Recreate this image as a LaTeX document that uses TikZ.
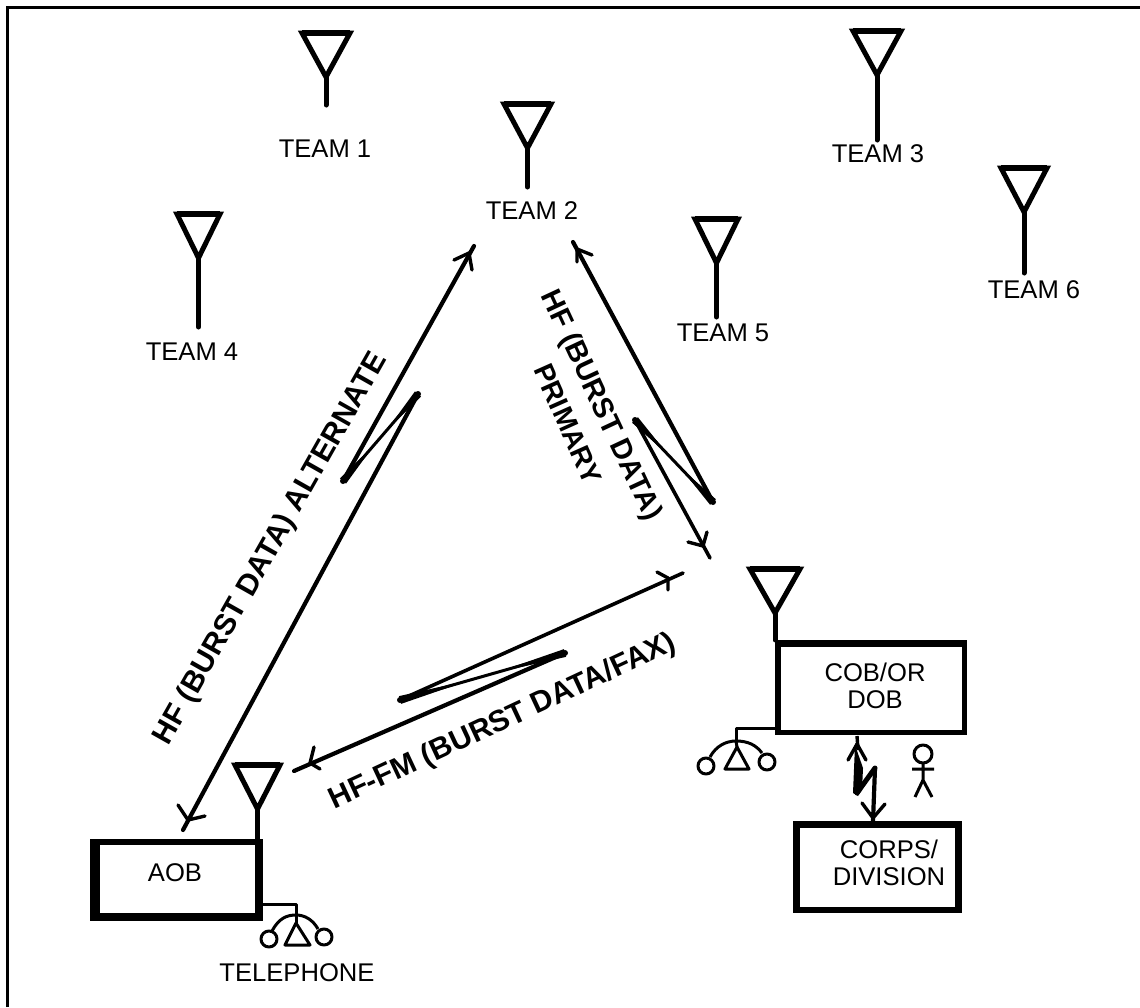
\documentclass[tikz,border=0pt]{standalone}
\usepackage{fontspec}
\setmainfont{Liberation Sans}
\usetikzlibrary{calc}
\tikzset{
  x=1pt,y=-1pt,
  lbl/.style={inner sep=0pt,font=\fontsize{25.6}{27.5}\selectfont,align=center},
  blbl/.style={inner sep=0pt,font=\fontsize{30}{32}\selectfont\bfseries,align=center},
  wire/.style={line width=4.2pt,line cap=round,line join=round},
  barb/.style={line width=3.4pt,line cap=round,line join=round},
  aerial/.style={line width=5pt,line join=miter,line cap=round},
  thin wire/.style={line width=3pt,line join=round},
  bolt/.style={fill=black},
}
\newcommand{\antenna}[5]{% name, tl x, tr x, top y, stem end y
  \coordinate (#1 l) at (#2,#4);
  \coordinate (#1 r) at (#3,#4);
  \coordinate (#1 a) at ({(#2+#3)/2},#4+44);
  \coordinate (#1 s) at ({(#2+#3)/2},#5);
  \draw[aerial] (#1 l) -- (#1 r) -- (#1 a) -- cycle;
  \draw[aerial,line width=6pt,line cap=butt] (#1 l) -- (#1 r);
  \draw[aerial] (#1 a) -- (#1 s);
}
\newcommand{\heavybox}[8]{% outer x0 y0 x1 y1, inner x0 y0 x1 y1
  \fill[black] (#1,#2) rectangle (#3,#4);
  \fill[white] (#5,#6) rectangle (#7,#8);
}
\newcommand{\zstroke}[2]{% lightning middle stroke, thick at both tips
  \draw[wire,line width=3pt] (#1) -- (#2);
  \fill[bolt] ($(#1)!4pt!90:(#2)$) -- ($(#1)!0.42!(#2)$) -- ($(#1)!4pt!-90:(#2)$) -- cycle;
  \fill[bolt] ($(#2)!4pt!90:(#1)$) -- ($(#2)!0.42!(#1)$) -- ($(#2)!4pt!-90:(#1)$) -- cycle;
  \fill[bolt] (#1) circle (3pt) (#2) circle (3pt);
}
\begin{document}
\begin{tikzpicture}
\useasboundingbox (0,0) rectangle (1140,1007);
\fill[white] (0,0) rectangle (1140,1007);
% frame
\coordinate (fa) at (7,1007); \coordinate (fb) at (7,7.5); \coordinate (fc) at (1140,7.5);
\draw[line width=3pt] (fa) -- (fb) -- (fc);
% team antennas
\antenna{t1}{302}{350}{33}{105}
\antenna{t2}{504}{551}{104}{187}
\antenna{t3}{853}{901}{31}{140}
\antenna{t4}{177}{220}{214}{327}
\antenna{t5}{695}{738}{219}{317}
\antenna{t6}{1001}{1047}{168}{273}
\antenna{cob}{750}{800}{569}{640}
\antenna{aob}{235}{280}{765}{840}
\node[lbl] (l1) at (325,149) {TEAM 1};
\node[lbl] (l2) at (532,211) {TEAM 2};
\node[lbl] (l3) at (878,154) {TEAM 3};
\node[lbl] (l4) at (192,352) {TEAM 4};
\node[lbl] (l5) at (723,333) {TEAM 5};
\node[lbl] (l6) at (1034,290) {TEAM 6};
% boxes
\heavybox{90}{839}{263}{921}{100}{845}{255}{913}
\node[lbl] (aob) at (175,873) {AOB};
\heavybox{775}{640}{967}{735}{781}{647}{962}{730}
\node[lbl] (cob) at (875,686) {COB/OR\\DOB};
\heavybox{793}{821}{962}{913}{800}{828}{955}{907}
\node[lbl] (corps) at (889,863) {CORPS/\\DIVISION};
\node[lbl] (tel) at (297,973) {TELEPHONE};
% telephone AOB
\coordinate (ta) at (263,904); \coordinate (tb) at (296,904); \coordinate (tc) at (296,915);
\draw[thin wire] (ta) -- (tb) -- (tc);
\draw[thin wire] (272,931) .. controls (279,918) and (287,915) .. (tc) .. controls (305,915) and (313,920) .. (318,929);
\draw[thin wire] (269,939) circle (8);
\draw[thin wire] (324,937) circle (8);
\draw[thin wire] (296,923) -- (310,945) -- (285,945) -- cycle;
\draw[thin wire] (tc) -- (296,923);
% telephone COB
\coordinate (ua) at (775,728); \coordinate (ub) at (736,728); \coordinate (uc) at (736,741);
\draw[thin wire] (ua) -- (ub) -- (uc);
\draw[thin wire] (710,757) .. controls (716,746) and (726,741) .. (uc) .. controls (748,741) and (756,745) .. (762,753);
\draw[thin wire] (706,766) circle (8);
\draw[thin wire] (767,762) circle (8);
\draw[thin wire] (737,747) -- (749,769) -- (725,769) -- cycle;
\draw[thin wire] (uc) -- (737,747);
% person
\draw[thin wire] (923,754) circle (9);
\coordinate (pa) at (923,763); \coordinate (pb) at (923,780);
\draw[thin wire] (pa) -- (pb) (912,769) -- (934,769) (915,797) -- (pb) -- (932,797);
% bolt COB -- Corps
\coordinate (ba) at (857,736); \coordinate (bm) at (858,750); \coordinate (bb) at (857,793); \coordinate (bc) at (875,768); \coordinate (bd) at (873,821);
\draw[wire,line width=3.4pt,line cap=butt] (ba) -- (bm);
\fill[bolt] (855,745) -- (863,768) -- (862,790) -- (858,796) -- (853,793) -- cycle;
\draw[wire,line width=5pt] (bb) -- (bc);
\draw[wire] (bc) -- (bd);
\draw[barb] (848,760) -- (857,744) -- (866,760);
\draw[barb] (862,803) -- (873,818) -- (885,804);
% left link
\coordinate (la) at (474,246); \coordinate (lb) at (343,481); \coordinate (lc) at (418,394); \coordinate (ld) at (183,830);
\draw[wire] (la) -- (lb);
\draw[wire] (lc) -- (ld);
\zstroke{lb}{lc}
\draw[barb] (454,260) -- (469,253) -- (472,270);
\draw[barb] (178,805) -- (188,820) -- (205,816);
% right link
\coordinate (ra) at (573,242); \coordinate (rb) at (713,502); \coordinate (rc) at (635,420); \coordinate (rd) at (710,558);
\draw[wire] (ra) -- (rb);
\draw[wire,line width=3.6pt] (rc) -- (rd);
\zstroke{rc}{rb}
\draw[barb] (592,255) -- (577,249) -- (577,262);
\draw[barb] (688,542) -- (703,546) -- (707,532);
% bottom link
\coordinate (ba1) at (683,573); \coordinate (ba2) at (400,700); \coordinate (ba3) at (565,653); \coordinate (ba4) at (294,771);
\draw[wire,line width=3.6pt] (ba1) -- (ba2);
\zstroke{ba2}{ba3}
\draw[wire] (ba3) -- (ba4);
\draw[barb] (657,572) -- (668,578) -- (668,590);
\draw[barb] (314,747) -- (310,763) -- (320,769);
% link labels
\node[blbl,rotate=60.5] (ltxt) at (271,549) {HF (BURST DATA) ALTERNATE};
\node[blbl,rotate=-65,font=\fontsize{29}{32}\selectfont\bfseries] (rtxt1) at (600,406) {HF (BURST DATA)};
\node[blbl,rotate=-66,font=\fontsize{28}{32}\selectfont\bfseries] (rtxt2) at (568,424) {PRIMARY};
\node[blbl,rotate=25] (btxt) at (503,722) {HF-FM (BURST DATA/FAX)};
\end{tikzpicture}
\end{document}
